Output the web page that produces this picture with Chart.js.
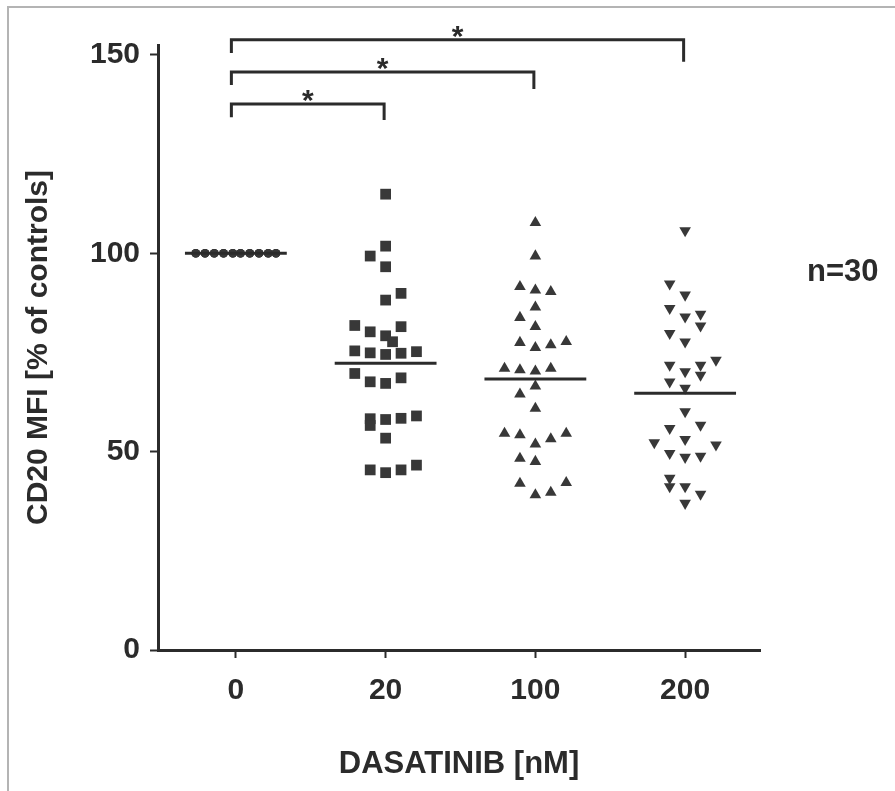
<!DOCTYPE html>
<html><head><meta charset="utf-8">
<script src="https://cdn.jsdelivr.net/npm/chart.js@4.4.1/dist/chart.umd.min.js"></script>
<style>html,body{margin:0;padding:0;background:#fff}canvas{display:block}</style>
</head><body>
<canvas id="c" width="895" height="791"></canvas>
<script>
// ---- data ----
const categories = ['0', '20', '100', '200'];
const yTickValues = [0, 50, 100, 150];

const values0 = [100,100,100,100,100,100,100,100,100,100,100,100,100,100,100,
                 100,100,100,100,100,100,100,100,100,100,100,100,100,100,100];
const slots0 = [-2.6,-2.6,-2.6,-2.0,-2.0,-2.0,-1.4,-1.4,-1.4,-0.8,-0.8,-0.8,-0.2,-0.2,-0.2,
                0.3,0.3,0.3,0.9,0.9,0.9,1.5,1.5,1.5,2.1,2.1,2.1,2.6,2.6,2.6];

const values20 = [114.9,101.8,99.3,96.6,89.9,88.2,81.8,80.2,81.5,79.2,77.7,75.4,74.9,74.5,74.8,
                  75.2,69.7,67.6,67.2,68.6,58.3,56.6,58.1,58.4,59.0,53.4,45.4,44.7,45.4,46.6];
const slots20 = [0,0,-1,0,1,0,-2,-1,1,0,0.45,-2,-1,0,1,2,-2,-1,0,1,-1,-1,0,1,2,0,-1,0,1,2];

const values100 = [107.7,99.3,91.6,90.7,90.3,86.4,83.8,81.5,77.5,76.2,76.9,77.7,71.0,70.6,70.3,
                   71.0,66.5,64.5,60.9,54.6,54.2,51.9,53.2,54.6,48.3,47.5,42.0,39.1,39.7,42.2];
const slots100 = [0,0,-1,0,1,0,-1,0,-1,0,1,2,-2,-1,0,1,0,-1,0,-2,-1,0,1,2,-1,0,-1,0,1,2];

const values200 = [105.7,92.3,89.5,86.1,84.0,84.7,81.7,79.8,77.7,73.1,71.8,70.2,71.8,69.3,67.6,
                   66.0,60.1,55.9,56.7,52.3,53.1,51.7,49.6,48.6,48.9,43.3,41.2,41.2,39.3,37.0];
const slots200 = [0,-1,0,-1,0,1,1,-1,0,2,-1,0,1,1,-1,0,0,-1,1,-2,0,2,-1,0,1,-1,-1,0,1,0];

const medians = [100, 72.3, 68.3, 64.7];

const bracketFrom = [0, 0, 0];
const bracketTo = [1, 2, 3];
const bracketLevel = [137.6, 145.7, 153.8];
const bracketMark = ['*', '*', '*'];
const sampleNote = 'n=30';

// ---- styling / layout ----
const INK = '#2b2b2b';
const MARK = '#383838';
const FONT = '"Liberation Sans", Arial, Helvetica, sans-serif';
const SLOT_W = 0.103;
const MED_HALF = 0.34;

function pts(gi, vals, slots) {
  return vals.map((v, i) => ({x: gi + slots[i] * SLOT_W, y: v}));
}

const groups = [
  {vals: values0, slots: slots0, style: 'circle', r: 4.3, rot: 0},
  {vals: values20, slots: slots20, style: 'rect', r: 7.6, rot: 0},
  {vals: values100, slots: slots100, style: 'triangle', r: 6.7, rot: 0},
  {vals: values200, slots: slots200, style: 'triangle', r: 6.7, rot: 180}
];

const datasets = [];
groups.forEach((g, gi) => {
  datasets.push({
    data: pts(gi, g.vals, g.slots),
    pointStyle: g.style, pointRadius: g.r, pointRotation: g.rot,
    pointBackgroundColor: MARK, pointBorderColor: MARK, pointBorderWidth: 0,
    showLine: false, order: 2
  });
});
medians.forEach((m, gi) => {
  datasets.push({
    data: [{x: gi - MED_HALF, y: m}, {x: gi + MED_HALF, y: m}],
    showLine: true, borderColor: INK, borderWidth: 3, pointRadius: 0, order: 1
  });
});
const dropL = [3.3, 3.3, 3.3];
const dropR = [4.0, 4.3, 5.5];
bracketLevel.forEach((lv, k) => {
  const a = bracketFrom[k] - 0.03, b = bracketTo[k] - 0.01;
  datasets.push({
    data: [{x: a, y: lv - dropL[k]}, {x: a, y: lv}, {x: b, y: lv}, {x: b, y: lv - dropR[k]}],
    showLine: true, borderColor: INK, borderWidth: 3, pointRadius: 0, clip: false,
    borderJoinStyle: 'miter', order: 1
  });
});

const framePlugin = {
  id: 'frame',
  beforeDraw(chart) {
    const ctx = chart.ctx;
    ctx.save();
    ctx.fillStyle = '#ffffff';
    ctx.fillRect(0, 0, chart.width, chart.height);
    ctx.strokeStyle = '#b4b4b4';
    ctx.lineWidth = 2;
    ctx.beginPath();
    ctx.moveTo(8, chart.height);
    ctx.lineTo(8, 7);
    ctx.lineTo(chart.width, 7);
    ctx.stroke();
    ctx.restore();
  }
};

const textPlugin = {
  id: 'texts',
  afterDraw(chart) {
    const ctx = chart.ctx, xs = chart.scales.x, ys = chart.scales.y;
    ctx.save();
    ctx.fillStyle = INK;
    ctx.font = 'bold 30px ' + FONT;
    ctx.textAlign = 'center';
    ctx.textBaseline = 'alphabetic';
    bracketLevel.forEach((lv, k) => {
      const mid = (bracketFrom[k] - 0.03 + bracketTo[k] - 0.01) / 2;
      ctx.fillText(bracketMark[k], xs.getPixelForValue(mid), ys.getPixelForValue(lv) + 6);
    });
    ctx.font = 'bold 31px ' + FONT;
    ctx.textAlign = 'left';
    ctx.textBaseline = 'middle';
    ctx.fillText(sampleNote, 807, 272);
    ctx.restore();
  }
};

new Chart(document.getElementById('c'), {
  type: 'scatter',
  data: {datasets},
  options: {
    responsive: false, animation: false,
    layout: {padding: {left: 0, right: 135, top: 45, bottom: 0}},
    plugins: {legend: {display: false}, tooltip: {enabled: false}},
    scales: {
      x: {
        type: 'linear', min: -0.52, max: 3.5,
        afterBuildTicks: s => { s.ticks = [0, 1, 2, 3].map(v => ({value: v})); },
        afterFit: s => { s.height = 141; },
        ticks: {
          autoSkip: false, maxRotation: 0, padding: 15, color: INK,
          font: {family: FONT, size: 30, weight: 'bold'},
          callback: v => categories[v]
        },
        grid: {display: true, drawOnChartArea: false, drawTicks: true, tickLength: 8, tickWidth: 2, tickColor: INK},
        border: {display: true, width: 3, color: INK},
        title: {display: true, text: 'DASATINIB [nM]', color: INK,
                font: {family: FONT, size: 31, weight: 'bold'}, padding: {top: 0, bottom: 8}}
      },
      y: {
        type: 'linear', min: 0, max: 152.5,
        afterBuildTicks: s => { s.ticks = yTickValues.map(v => ({value: v})); },
        afterFit: s => { s.width = 158; },
        ticks: {padding: 10, color: INK, font: {family: FONT, size: 30, weight: 'bold'}},
        grid: {display: true, drawOnChartArea: false, drawTicks: true, tickLength: 8, tickWidth: 2, tickColor: INK},
        border: {display: true, width: 3, color: INK},
        title: {display: true, text: 'CD20 MFI [% of controls]', color: INK,
                font: {family: FONT, size: 30, weight: 'bold'}, padding: {top: 21, bottom: 0}}
      }
    }
  },
  plugins: [framePlugin, textPlugin]
});
</script>
</body></html>
